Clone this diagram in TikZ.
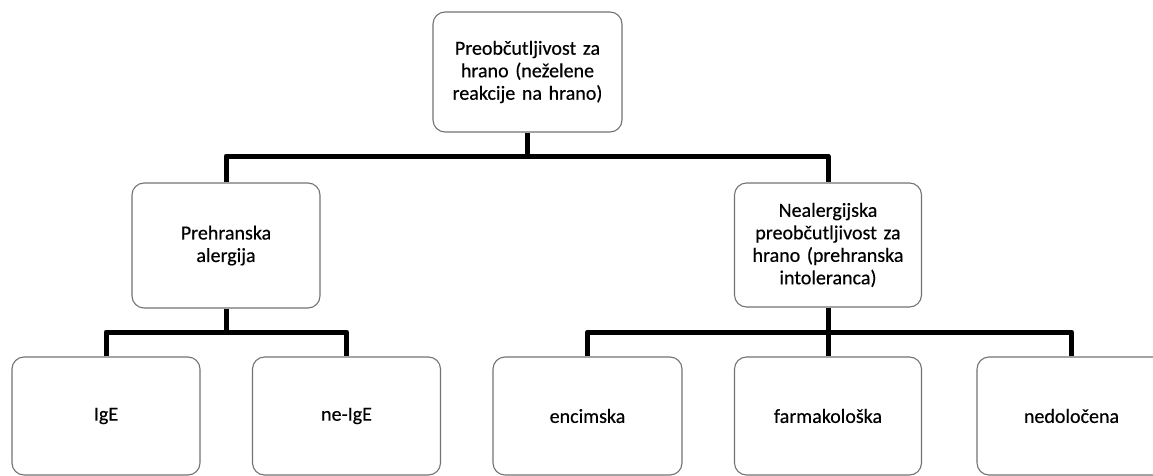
\documentclass[tikz,border=0pt]{standalone}
\usepackage{fontspec}
\setmainfont{Carlito}[FakeBold=0.4]
\tikzset{
  box/.style={draw=black!55, line width=1.1pt, rounded corners=12pt, fill=white,
    align=center, inner sep=0pt, font=\fontsize{20}{22.5}\selectfont},
  conn/.style={line width=5pt, line join=round, draw=black}
}
\begin{document}
\begin{tikzpicture}[x=1pt,y=-1pt]
\useasboundingbox (0,0) rectangle (1153,476);
\clip (0,0) rectangle (1153,476);
% boxes
\node[box, minimum width=189pt, minimum height=120pt, text width=180pt] (top) at (527.5,72) {Preobčutljivost za\\hrano (neželene\\reakcije na hrano)};
\node[box, minimum width=188pt, minimum height=125pt, text width=180pt] (pa) at (226,245.5) {Prehranska\\alergija};
\node[box, minimum width=187pt, minimum height=124pt, text width=180pt] (na) at (828,245) {Nealergijska\\preobčutljivost za\\hrano (prehranska\\intoleranca)};
\node[box, minimum width=188pt, minimum height=118pt] (ige) at (106,416) {IgE};
\node[box, minimum width=188pt, minimum height=118pt] (neige) at (346.5,416) {ne-IgE};
\node[box, minimum width=189pt, minimum height=118pt] (enc) at (587.5,416) {encimska};
\node[box, minimum width=187pt, minimum height=118pt] (far) at (828,416) {farmakološka};
\node[box, minimum width=189pt, minimum height=118pt] (ned) at (1071.5,416) {nedoločena};
% junction coordinates
\coordinate (j1) at (527.5,156);
\coordinate (j2) at (226,332);
\coordinate (j3) at (828,332);
% connectors
\draw[conn] (top.south) -- (j1);
\draw[conn] (pa.north) |- (j1) -| (na.north);
\draw[conn] (pa.south) -- (j2);
\draw[conn] (ige.north) |- (j2) -| (neige.north);
\draw[conn] (na.south) -- (far.north);
\draw[conn] (enc.north) |- (j3) -| (ned.north);
\end{tikzpicture}
\end{document}
